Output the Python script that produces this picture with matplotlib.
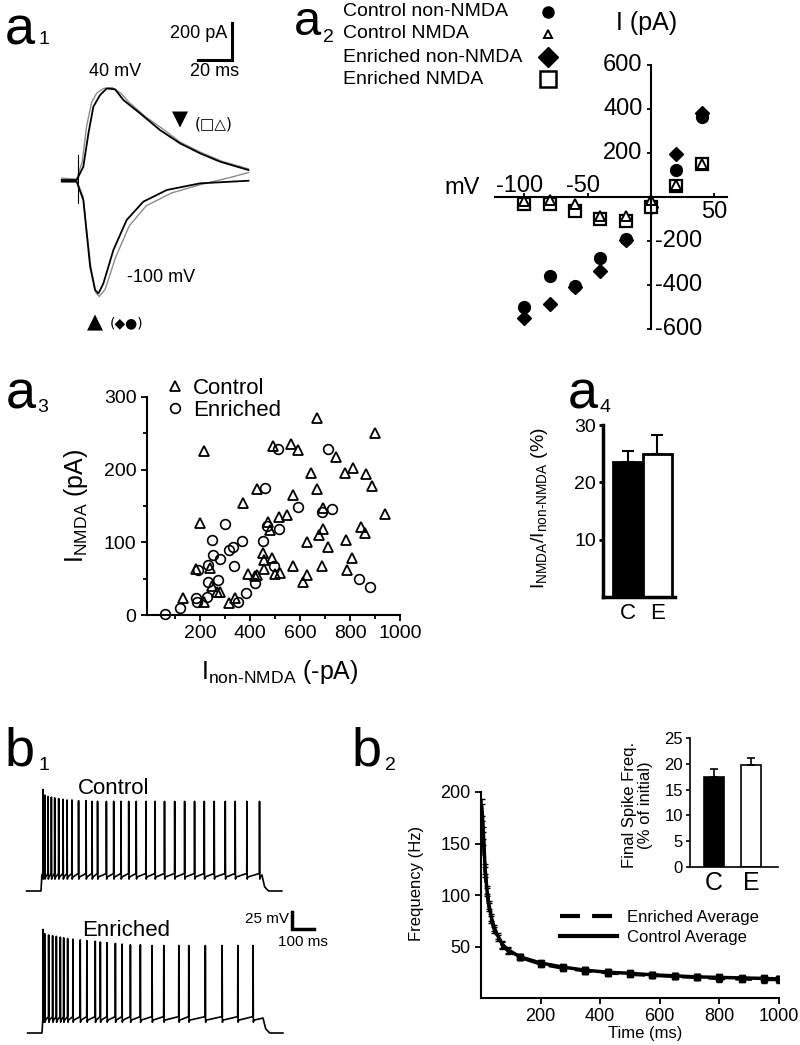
import matplotlib
matplotlib.use('Agg')
import matplotlib.pyplot as plt
from matplotlib.lines import Line2D

# ---------------- DATA ----------------
# a1: example current traces (time ms, current pA)
a1_up_t = [-9.6, -0.8, 3.1, 6.1, 9.0, 12.9, 16.9, 21.8, 26.7, 36.5, 48.2, 60, 71.8, 83.5, 100.2]
a1_up_i = [0, 0, 72, 252, 396, 459, 495, 490, 432, 360, 270, 198, 144, 99, 54]
a1_up2_t = [-9.6, -0.8, 2.5, 5, 8, 11, 15, 20, 25, 30, 40, 50, 60, 72, 85, 100.2]
a1_up2_i = [10, 5, 100, 290, 420, 470, 495, 500, 470, 420, 340, 275, 205, 150, 100, 60]
a1_lo_t = [-9.6, -0.8, 3.1, 5.1, 7.1, 10, 12, 14.9, 20.8, 28.6, 38.4, 52.2, 71.8, 100.2]
a1_lo_i = [-9, -9, -108, -288, -468, -595, -613, -559, -378, -216, -117, -54, -18, -4]
a1_lo2_t = [-9.6, -0.8, 3, 5, 7.5, 10.5, 12.5, 16, 22, 30, 40, 55, 72, 90, 100.2]
a1_lo2_i = [5, -5, -90, -270, -470, -610, -630, -590, -420, -250, -140, -70, -25, 15, 40]

# a2: I-V relations
iv_v = [-100, -80, -60, -40, -20, 0, 20, 40]
iv_ctrl_non = [-500, -361, -405, -277, -189, -40, 124, 364]
iv_enr_non = [-550, -488, -409, -338, -195, -45, 194, 383]
iv_ctrl_nmda = [-20, -15, -33, -88, -85, -12, 53, 151]
iv_enr_nmda = [-33, -33, -65, -101, -110, -45, 50, 148]
iv_yticks_pos = [200, 400, 600]
iv_yticks_neg = [-200, -400, -600]

# a3: scatter
ctrl_x = [133, 216, 200, 183, 240, 216, 247, 267, 280, 317, 340, 373, 393, 420, 427, 429, 453, 456, 456,
          473, 480, 487, 491, 500, 520, 517, 549, 563, 571, 573, 593, 613, 629, 629, 643, 667, 669, 677,
          691, 693, 687, 713, 744, 780, 784, 787, 813, 807, 843, 860, 864, 887, 900, 940]
ctrl_y = [24, 225, 126, 63, 65, 18, 40, 32, 32, 16, 24, 154, 57, 54, 174, 55, 85, 76, 63,
          128, 117, 78, 232, 57, 58, 135, 138, 236, 165, 67, 227, 46, 55, 101, 195, 173, 271, 110,
          119, 147, 68, 93, 218, 195, 103, 62, 202, 78, 121, 113, 194, 178, 250, 139]
enr_x = [60, 120, 184, 187, 193, 227, 233, 233, 247, 253, 273, 280, 300, 317, 333, 337, 353, 367, 383,
         420, 453, 460, 467, 513, 517, 496, 591, 687, 713, 727, 837, 880]
enr_y = [1, 9, 24, 18, 62, 25, 46, 69, 103, 83, 48, 77, 125, 89, 94, 68, 18, 102, 30,
         44, 102, 175, 122, 229, 118, 68, 148, 142, 229, 146, 50, 38]

# a4: NMDA / non-NMDA ratio
a4_groups = ['C', 'E']
a4_vals = [23.6, 24.9]
a4_err = [1.8, 3.3]

# b1: spike trains (spike times ms, peak mV)
ctrl_spk_t = [9, 17, 32, 47, 62, 80, 100, 118, 140, 170, 204, 231, 256, 296, 329, 362, 397, 431, 475, 516,
              559, 605, 650, 695, 739, 784, 834, 879, 932, 989]
ctrl_spk_v = [75, 67, 65, 64, 63, 62, 61, 60, 60, 59, 59, 58, 58, 58, 58, 58, 58, 58, 58, 58,
              58, 58, 58, 58, 58, 58, 58, 58, 58, 58]
enr_spk_t = [5, 12, 30, 48, 65, 83, 98, 116, 140, 173, 203, 241, 264, 294, 332, 362, 400, 445, 498, 551,
             619, 664, 739, 815, 886, 955]
enr_spk_v = [78, 72, 70, 69, 68, 67, 66, 65, 64, 63, 62, 61, 60, 59, 58, 57, 56, 56, 55, 55,
             55, 55, 55, 55, 55, 55]

# b2: frequency adaptation
fr_t = [3, 8, 14, 20, 27, 35, 45, 57, 72, 90, 130, 200, 275, 350, 425, 500, 575, 650, 725, 800, 875, 950, 1000]
fr_ctrl = [185, 160, 125, 105, 90, 78, 68, 60, 52, 47, 40, 34, 30, 27, 25, 24, 22.5, 21.5, 20.5, 20, 19.5, 19, 18.5]
fr_enr = [180, 155, 122, 103, 88, 76, 66, 58, 51, 46, 39.5, 33, 29, 26.5, 24.5, 23, 22, 21, 20, 19, 18.5, 18, 18]
fr_err = [8, 6, 5, 4, 4, 3.5, 3, 3, 3, 3, 3, 3, 3, 3.5, 3.5, 3, 3, 3, 3, 3, 3, 3, 3]

# b2 inset
ins_groups = ['C', 'E']
ins_vals = [17.5, 19.7]
ins_err = [1.4, 1.5]

# ---------------- STYLE ----------------
plt.rcParams['font.family'] = ['Liberation Sans', 'DejaVu Sans']
plt.rcParams['mathtext.fontset'] = 'custom'
plt.rcParams['mathtext.rm'] = 'Liberation Sans'
plt.rcParams['mathtext.it'] = 'Liberation Sans:italic'
plt.rcParams['mathtext.bf'] = 'Liberation Sans:bold'
plt.rcParams['mathtext.default'] = 'regular'
plt.rcParams['axes.unicode_minus'] = False

W, H = 800, 1045
fig = plt.figure(figsize=(W / 100, H / 100), dpi=100)


def box(l, t, r, b):
    return fig.add_axes([l / W, 1 - b / H, (r - l) / W, (b - t) / H])


def ftext(x, y, s, **kw):
    return fig.text(x / W, 1 - y / H, s, **kw)


def panel_label(x, y, letter, num, dx, dy, size=39):
    ftext(x, y, '$' + letter + '$', fontsize=size, va='baseline', ha='left')
    ftext(x + dx, y + dy, num, fontsize=14, va='baseline', ha='left')


# ---------------- a1 ----------------
ax1 = box(50, 20, 260, 340)
ax1.set_xlim(-16.5, 107)
ax1.set_ylim(-865, 865)
ax1.axis('off')
ax1.plot(a1_up2_t, a1_up2_i, color='0.55', lw=1.0)
ax1.plot(a1_lo2_t, a1_lo2_i, color='0.55', lw=1.0)
ax1.plot(a1_up_t, a1_up_i, color='k', lw=1.3)
ax1.plot(a1_lo_t, a1_lo_i, color='k', lw=1.3)
ax1.plot([0.2, 0.2], [135, -124], color='k', lw=0.8)
ax1.plot([70.6, 90.6, 90.6], [649, 649, 849], color='k', lw=2.2, solid_joinstyle='miter')
panel_label(4, 43, 'a', '1', 34, 1)
ftext(227, 34, '200 pA', fontsize=13, ha='right', va='center')
ftext(215, 72, '20 ms', fontsize=13, ha='center', va='center')
ftext(115, 72, '40 mV', fontsize=13, ha='center', va='center')
ftext(127, 277, '-100 mV', fontsize=13, ha='left', va='center')
ftext(180, 119, '\u25BC', fontsize=15, ha='center', va='center', family='DejaVu Sans')
ftext(195, 124, '(\u25A1\u25B3)', fontsize=11, ha='left', va='center', family='DejaVu Sans')
ftext(95, 322, '\u25B2', fontsize=15, ha='center', va='center', family='DejaVu Sans')
ftext(110, 323, '(\u25C6\u25CF)', fontsize=10, ha='left', va='center', family='DejaVu Sans')

# ---------------- a2 ----------------
ax2 = box(495, 65, 727, 329)
ax2.set_xlim(-123, 60)
ax2.set_ylim(-600, 600)
for s in ['top', 'right']:
    ax2.spines[s].set_visible(False)
ax2.spines['left'].set_position(('data', 0))
ax2.spines['bottom'].set_position(('data', 0))
for s in ['left', 'bottom']:
    ax2.spines[s].set_linewidth(1.5)
ax2.set_yticks(iv_yticks_neg + iv_yticks_pos)
ax2.set_yticklabels([])
ax2.tick_params(axis='y', direction='out', length=3, width=1.3)
for v in iv_yticks_pos:
    ax2.annotate(str(v), (0, v), xytext=(-6, 0), textcoords='offset points', ha='right', va='center', fontsize=17)
for v in iv_yticks_neg:
    ax2.annotate(str(v), (0, v), xytext=(3, 0), textcoords='offset points', ha='left', va='center', fontsize=17)
ax2.set_xticks([-100, -50, 50])
ax2.set_xticklabels([])
ax2.tick_params(axis='x', direction='in', length=3, width=1.3)
for v in [-100, -50]:
    ax2.annotate(str(v), (v, 0), xytext=(-3, 0), textcoords='offset points', ha='center', va='bottom', fontsize=17)
ax2.annotate('50', (50, 0), xytext=(0, -3), textcoords='offset points', ha='center', va='top', fontsize=17)
ax2.plot(iv_v, iv_ctrl_non, 'o', color='k', ms=8.5, clip_on=False)
ax2.plot(iv_v, iv_enr_non, 'D', color='k', ms=7, clip_on=False)
ax2.plot(iv_v, iv_enr_nmda, 's', mfc='white', mec='k', mew=1.6, ms=8.5, clip_on=False)
ax2.plot(iv_v, iv_ctrl_nmda, '^', mfc='white', mec='k', mew=1.4, ms=6.5, clip_on=False)
ftext(647, 23, 'I (pA)', fontsize=18, ha='center', va='center')
ftext(462, 188, 'mV', fontsize=17, ha='center', va='center')
panel_label(293, 35, 'a', '2', 30, 7, size=35)

# ---------------- a3 ----------------
ax3 = box(147, 397, 400, 615)
ax3.set_xlim(-12, 1000)
ax3.set_ylim(0, 300)
for s in ['top', 'right']:
    ax3.spines[s].set_visible(False)
for s in ['left', 'bottom']:
    ax3.spines[s].set_linewidth(1.5)
ax3.plot(ctrl_x, ctrl_y, '^', mfc='none', mec='k', mew=1.3, ms=7, ls='none', clip_on=False, label='Control')
ax3.plot(enr_x, enr_y, 'o', mfc='none', mec='k', mew=1.2, ms=7, ls='none', clip_on=False, label='Enriched')
ax3.set_yticks([0, 100, 200, 300])
ax3.set_yticks([50, 150, 250], minor=True)
ax3.set_xticks([200, 400, 600, 800, 1000])
ax3.set_xticks([100, 300, 500, 700, 900], minor=True)
ax3.tick_params(which='both', direction='out', width=1.3, labelsize=14)
ax3.tick_params(which='major', length=4)
ax3.tick_params(which='minor', length=3)
ax3.set_ylabel('I$_{NMDA}$ (pA)', fontsize=18)
ax3.yaxis.set_label_coords(-0.225, 0.5)
ax3.set_xlabel(r'I$_{non\text{-}NMDA}$ (-pA)', fontsize=18)
ax3.xaxis.set_label_coords(0.526, -0.195)
ax3.legend(loc='upper left', bbox_to_anchor=(166 / W, 1 - 378 / H), bbox_transform=fig.transFigure,
           frameon=False, fontsize=16, handlelength=0.8, handletextpad=0.4, labelspacing=0.05,
           borderpad=0, borderaxespad=0)
panel_label(5, 407, 'a', '3', 32, 5)

# ---------------- a4 ----------------
ax4 = box(603, 425, 675, 597)
ax4.set_xlim(-0.84, 1.6)
ax4.set_ylim(0, 30)
for s in ['top', 'right']:
    ax4.spines[s].set_visible(False)
for s in ['left', 'bottom']:
    ax4.spines[s].set_linewidth(2.5)
ax4.bar([0, 1], a4_vals, width=1.0, color=['k', 'white'], edgecolor='k', linewidth=2)
ax4.errorbar([0, 1], a4_vals, yerr=[[0, 0], a4_err], fmt='none', ecolor='k', elinewidth=1.5, capsize=4, capthick=1.5)
ax4.set_yticks([10, 20, 30])
ax4.set_xticks([0, 1])
ax4.set_xticklabels(a4_groups)
ax4.tick_params(axis='y', direction='out', length=3, width=2, labelsize=14, pad=2)
ax4.tick_params(axis='x', length=0, labelsize=16, pad=4)
ax4.set_ylabel(r'I$_{NMDA}$/I$_{non\text{-}NMDA}$ (%)', fontsize=14)
ax4.yaxis.set_label_coords(-0.74, 0.517)
panel_label(567, 407, 'a', '4', 32, 5)

# ---------------- b1 ----------------


def spike_trace(times, peaks, base, step, t_off=1000):
    t = [-65, 0, 4]
    v = [base, base, step]
    for ts, pk in zip(times, peaks):
        t += [ts - 0.8, ts, ts + 1.2, ts + 4]
        v += [step + 2, pk, step - 6, step - 3]
    t += [t_off, t_off + 12, t_off + 30, t_off + 90]
    v += [step, base + 6, base, base]
    return t, v


axb1 = box(20, 770, 330, 900)
axb1.set_xlim(-95, 1308)
axb1.set_ylim(-82.86, 102.86)
axb1.axis('off')
tc, vc = spike_trace(ctrl_spk_t, ctrl_spk_v, -70, -47)
axb1.plot(tc, vc, color='k', lw=1.2)

axb2 = box(20, 905, 330, 1040)
axb2.set_xlim(-99.5, 1303)
axb2.set_ylim(-80, 112.9)
axb2.axis('off')
te, ve = spike_trace(enr_spk_t, enr_spk_v, -70, -48.6)
axb2.plot(te, ve, color='k', lw=1.2)
axb2.plot([1131, 1131, 1231], [103.6, 78.6, 78.6], color='k', lw=2.5, solid_joinstyle='miter', clip_on=False)

ftext(78, 788, 'Control', fontsize=16, ha='left', va='center')
ftext(82, 930, 'Enriched', fontsize=16, ha='left', va='center')
ftext(289, 919, '25 mV', fontsize=11, ha='right', va='center')
ftext(278, 942, '100 ms', fontsize=11, ha='left', va='center')
panel_label(4, 765, 'b', '1', 34, 5)

# ---------------- b2 ----------------
ax5 = box(481, 792, 779, 998)
ax5.set_xlim(0, 1000)
ax5.set_ylim(0, 200)
for s in ['top', 'right']:
    ax5.spines[s].set_visible(False)
for s in ['left', 'bottom']:
    ax5.spines[s].set_linewidth(1.5)
ax5.errorbar(fr_t, fr_enr, yerr=fr_err, fmt='none', ecolor='k', elinewidth=1.2, capsize=2)
ax5.errorbar(fr_t, fr_ctrl, yerr=fr_err, fmt='none', ecolor='k', elinewidth=1.2, capsize=2)
late = [i for i, t in enumerate(fr_t) if t >= 120]
ax5.plot([fr_t[i] for i in late], [fr_enr[i] for i in late], 's', color='k', ms=4.5)
ax5.plot([fr_t[i] for i in late], [fr_ctrl[i] for i in late], 's', color='k', ms=4.5)
ax5.plot(fr_t, fr_enr, color='k', lw=2.5, ls=(0, (4.8, 2.9)), label='Enriched Average')
ax5.plot(fr_t, fr_ctrl, color='k', lw=2.5, label='Control Average')
ax5.set_yticks([50, 100, 150, 200])
ax5.set_xticks([200, 400, 600, 800, 1000])
ax5.tick_params(direction='out', length=4, width=1.3, labelsize=13)
ax5.set_ylabel('Frequency (Hz)', fontsize=12)
ax5.yaxis.set_label_coords(-0.19, 0.558)
ax5.set_xlabel('Time (ms)', fontsize=12)
ax5.xaxis.set_label_coords(0.55, -0.135)
handles = [Line2D([], [], color='k', lw=3, ls=(0, (4.8, 2.9))), Line2D([], [], color='k', lw=3)]
ax5.legend(handles, ['Enriched Average', 'Control Average'], loc='upper left',
           bbox_to_anchor=(560 / W, 1 - 910 / H), bbox_transform=fig.transFigure, frameon=False,
           fontsize=12, handlelength=3.4, handletextpad=0.6, labelspacing=0.3, borderpad=0, borderaxespad=0)
panel_label(351, 765, 'b', '2', 34, 5)

# inset
ax6 = box(690, 738, 778, 867)
ax6.set_xlim(-0.64, 1.71)
ax6.set_ylim(0, 25)
for s in ['top', 'right']:
    ax6.spines[s].set_visible(False)
for s in ['left', 'bottom']:
    ax6.spines[s].set_linewidth(1.2)
ax6.bar([0, 1], ins_vals, width=0.53, color=['k', 'white'], edgecolor='k', linewidth=1.2)
ax6.errorbar([0, 1], ins_vals, yerr=[[0, 0], ins_err], fmt='none', ecolor='k', elinewidth=1.2, capsize=3, capthick=1.2)
ax6.set_yticks([0, 5, 10, 15, 20, 25])
ax6.set_xticks([0, 1])
ax6.set_xticklabels(ins_groups)
ax6.tick_params(axis='y', direction='out', length=3, width=1.2, labelsize=12, pad=2)
ax6.tick_params(axis='x', length=0, labelsize=18, pad=3)
ax6.set_ylabel('Final Spike Freq.\n(% of initial)', fontsize=12, linespacing=1.05)
ax6.yaxis.set_label_coords(-0.42, 0.48)

# overlay (legend keys of a2), on top of everything
ov = box(0, 0, W, H)
ov.set_xlim(0, W)
ov.set_ylim(H, 0)
ov.axis('off')
ov.set_zorder(10)
leg_labels = ['Control non-NMDA', 'Control NMDA', 'Enriched non-NMDA', 'Enriched NMDA']
leg_y = [12, 34, 57, 79]
for lab, yy in zip(leg_labels, leg_y):
    ftext(343, yy, lab, fontsize=14, ha='left', va='center')
ov.plot([548], [leg_y[0]], 'o', color='k', ms=8)
ov.plot([548], [leg_y[1]], '^', mfc='white', mec='k', mew=1.4, ms=6)
ov.plot([548], [leg_y[2]], 'D', color='k', ms=10)
ov.plot([548], [leg_y[3]], 's', mfc='white', mec='k', mew=1.8, ms=12)

fig.savefig('out.png', dpi=100)
